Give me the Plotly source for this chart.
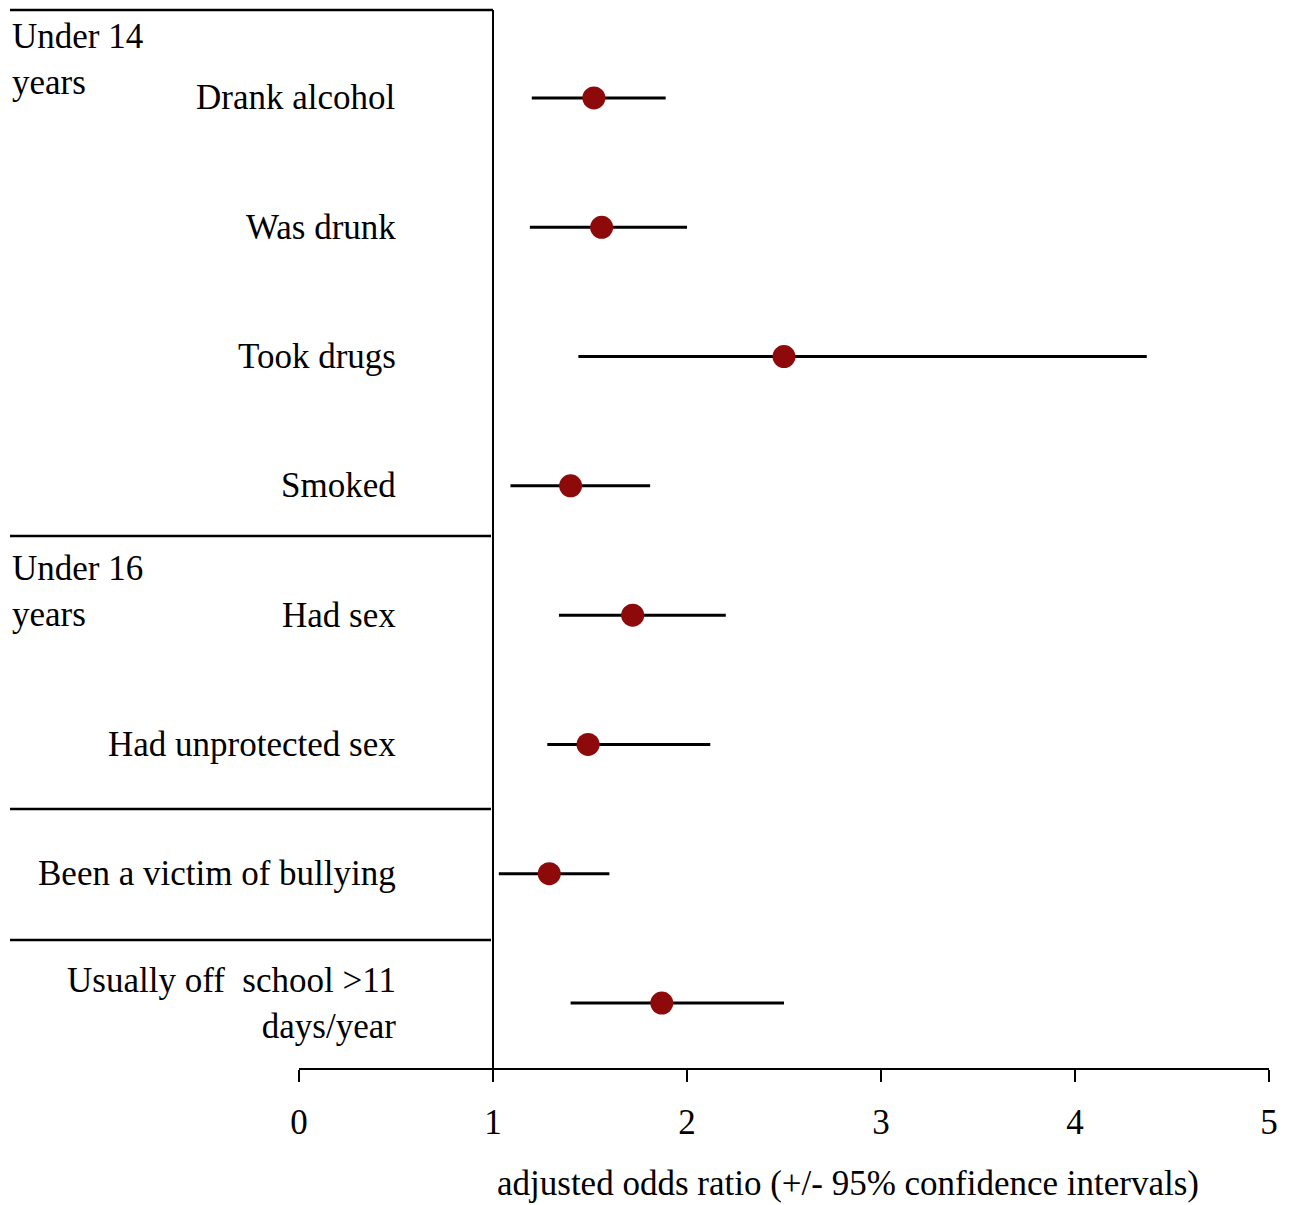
import plotly.graph_objects as go

labels = ["Drank alcohol", "Was drunk", "Took drugs", "Smoked", "Had sex",
          "Had unprotected sex", "Been a victim of bullying",
          "Usually off  school >11<br>days/year"]
odds = [1.52, 1.56, 2.50, 1.40, 1.72, 1.49, 1.29, 1.87]
ci_low = [1.20, 1.19, 1.44, 1.09, 1.34, 1.28, 1.03, 1.40]
ci_high = [1.89, 2.00, 4.37, 1.81, 2.20, 2.12, 1.60, 2.50]
groups = ["Under 14<br>years", "Under 16<br>years"]
xticks = [0, 1, 2, 3, 4, 5]

OFF = 8  # page body margin
W, H = 1294 - OFF, 1205 - OFF
L, T = 299 - OFF, 10 - OFF
pw = 970
ph = 1068 - 10
R = W - L - pw
B = H - T - ph
FONT = "Liberation Serif"
FS = 35

rows = list(range(len(labels)))

def px_x(p):
    return (p - 299) / pw

def px_y(p):
    return (1068 - p) / ph

fig = go.Figure()
for i in rows:
    fig.add_trace(go.Scatter(x=[ci_low[i], ci_high[i]], y=[i, i], mode="lines",
                             line=dict(color="black", width=3), showlegend=False,
                             hoverinfo="skip"))
fig.add_trace(go.Scatter(x=odds, y=rows, mode="markers",
                         marker=dict(color="#8e0a0a", size=23,
                                     line=dict(width=0)),
                         showlegend=False))

# reference line at 1
fig.add_shape(type="line", xref="x", yref="paper", x0=1, x1=1, y0=0, y1=px_y(10),
              line=dict(color="black", width=2))
# box top
fig.add_shape(type="line", xref="paper", yref="paper", x0=px_x(10), x1=px_x(493),
              y0=px_y(10), y1=px_y(10), line=dict(color="black", width=2.5))
for yy in [536, 809, 940]:
    fig.add_shape(type="line", xref="paper", yref="paper", x0=px_x(10), x1=px_x(491),
                  y0=px_y(yy), y1=px_y(yy), line=dict(color="black", width=2.5))

for i, lab in enumerate(labels):
    fig.add_annotation(x=px_x(398), xref="paper", y=i, yref="y", text=lab,
                       xanchor="right", yanchor="middle", align="right",
                       showarrow=False, font=dict(family=FONT, size=FS, color="black"))

for g, yy in zip(groups, [59, 592]):
    fig.add_annotation(x=px_x(10), xref="paper", y=px_y(yy), yref="paper", text=g,
                       xanchor="left", yanchor="middle", align="left",
                       showarrow=False, font=dict(family=FONT, size=FS, color="black"))

fig.add_annotation(x=px_x(848), xref="paper", y=px_y(1183), yref="paper",
                   text="adjusted odds ratio (+/- 95% confidence intervals)",
                   xanchor="center", yanchor="middle", showarrow=False,
                   font=dict(family=FONT, size=FS, color="black"))

fig.update_xaxes(range=[0, 5], tickvals=xticks, ticktext=[str(t) for t in xticks],
                 showline=True, linecolor="black", linewidth=1.5, ticks="outside",
                 ticklen=12, tickwidth=1.5, tickcolor="black", showgrid=False,
                 zeroline=False, ticklabelstandoff=10,
                 tickfont=dict(family=FONT, size=FS, color="black"))
fig.update_yaxes(range=[7 + 65 / 129.3, -88 / 129.3], showticklabels=False,
                 showgrid=False, zeroline=False, showline=False, ticks="")

fig.update_layout(width=W, height=H, margin=dict(l=L, r=R, t=T, b=B),
                  plot_bgcolor="white", paper_bgcolor="white")
fig.write_html("out.html")
